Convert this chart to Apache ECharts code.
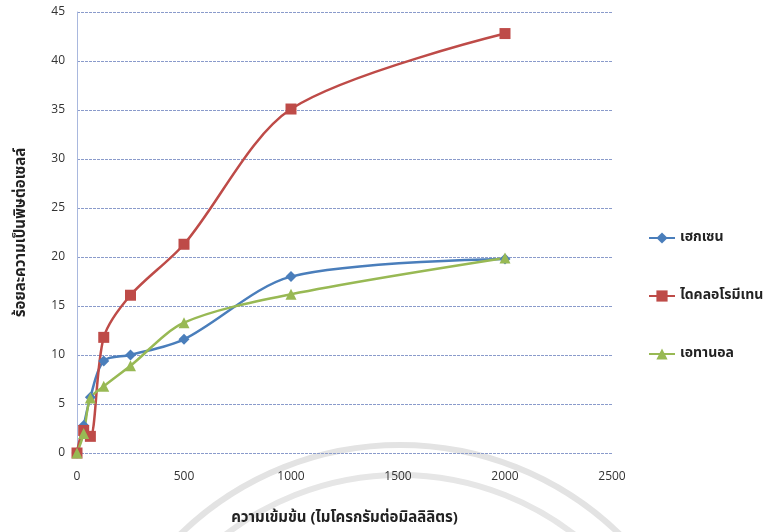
<!DOCTYPE html>
<html lang="th">
<head>
    <meta charset="UTF-8">
    <title>ร้อยละความเป็นพิษต่อเซลล์</title>
    <style type="text/css">
        html, body { margin: 0; padding: 0; background: #fff; }
        #chart { width: 769px; height: 532px; }
    </style>
</head>
<body>
<div id="chart"></div>
<script src="https://cdn.jsdelivr.net/npm/echarts@6/dist/echarts.min.js"></script>
<script>
    // ความเข้มข้น (µg/ml)
    var conc = [0, 31.25, 62.5, 125, 250, 500, 1000, 2000];
    var names = ['เฮกเซน', 'ไดคลอโรมีเทน', 'เอทานอล'];
    var hexane = [0, 2.8, 5.7, 9.4, 10.0, 11.6, 18.0, 19.8];
    var dcm = [0, 2.3, 1.7, 11.8, 16.1, 21.3, 35.1, 42.8];
    var ethanol = [0, 2.0, 5.6, 6.8, 8.9, 13.3, 16.2, 19.9];

    var thaiFont = '"Noto Sans Thai", "Noto Sans", "DejaVu Sans", sans-serif';

    function pairs(ys) {
        return conc.map(function (x, i) { return [x, ys[i]]; });
    }

    function mkSeries(name, ys, color, symbol, size) {
        return {
            name: name,
            type: 'line',
            smooth: 0.3,
            data: pairs(ys),
            symbol: symbol,
            symbolSize: size,
            lineStyle: { color: color, width: 2.5 },
            itemStyle: { color: color },
            emphasis: { disabled: true }
        };
    }

    var chart = echarts.init(document.getElementById('chart'));
    chart.setOption({
        animation: false,
        backgroundColor: '#fff',
        textStyle: { fontFamily: thaiFont },
        grid: { left: 77, right: 157, top: 12, bottom: 79 },
        legend: {
            orient: 'vertical',
            left: 643,
            top: 226,
            itemGap: 44,
            itemWidth: 26,
            itemHeight: 14,
            textStyle: { fontFamily: thaiFont, fontSize: 14, fontWeight: 'bold', color: '#222' },
            data: names
        },
        xAxis: {
            type: 'value',
            min: 0, max: 2500, interval: 500,
            name: 'ความเข้มข้น (ไมโครกรัมต่อมิลลิลิตร)',
            nameLocation: 'middle',
            nameGap: 58,
            nameTextStyle: { fontFamily: thaiFont, fontSize: 15, fontWeight: 'bold', color: '#222' },
            axisLine: { show: false },
            axisTick: { show: false },
            axisLabel: { margin: 18, fontSize: 12, color: '#333', fontFamily: 'Open Sans',
                formatter: function (v) { return String(v); } },
            splitLine: { show: false }
        },
        yAxis: {
            type: 'value',
            min: 0, max: 45, interval: 5,
            name: 'ร้อยละความเป็นพิษต่อเซลล์',
            nameLocation: 'middle',
            nameGap: 48,
            nameRotate: 90,
            nameTextStyle: { fontFamily: thaiFont, fontSize: 15, fontWeight: 'bold', color: '#222' },
            axisLine: { show: true, lineStyle: { color: '#a9b8de', width: 1 } },
            axisTick: { show: false },
            axisLabel: { margin: 12, fontSize: 12, color: '#333', fontFamily: 'Open Sans' },
            splitLine: { show: true, lineStyle: { color: '#8a9bcb', type: [3, 1], width: 1 } }
        },
        // faint watermark rings at the bottom
        graphic: [
            { type: 'circle', z: -1, silent: true, shape: { cx: 400, cy: 760, r: 315 },
              style: { fill: null, stroke: '#e3e3e3', lineWidth: 6 } },
            { type: 'circle', z: -1, silent: true, shape: { cx: 400, cy: 760, r: 285 },
              style: { fill: null, stroke: '#e6e6e6', lineWidth: 6 } }
        ],
        series: [
            mkSeries(names[0], hexane, '#4a7ebb', 'diamond', 11),
            mkSeries(names[1], dcm, '#be4b48', 'rect', 11),
            mkSeries(names[2], ethanol, '#98b954', 'triangle', 11)
        ]
    });
</script>
</body>
</html>
